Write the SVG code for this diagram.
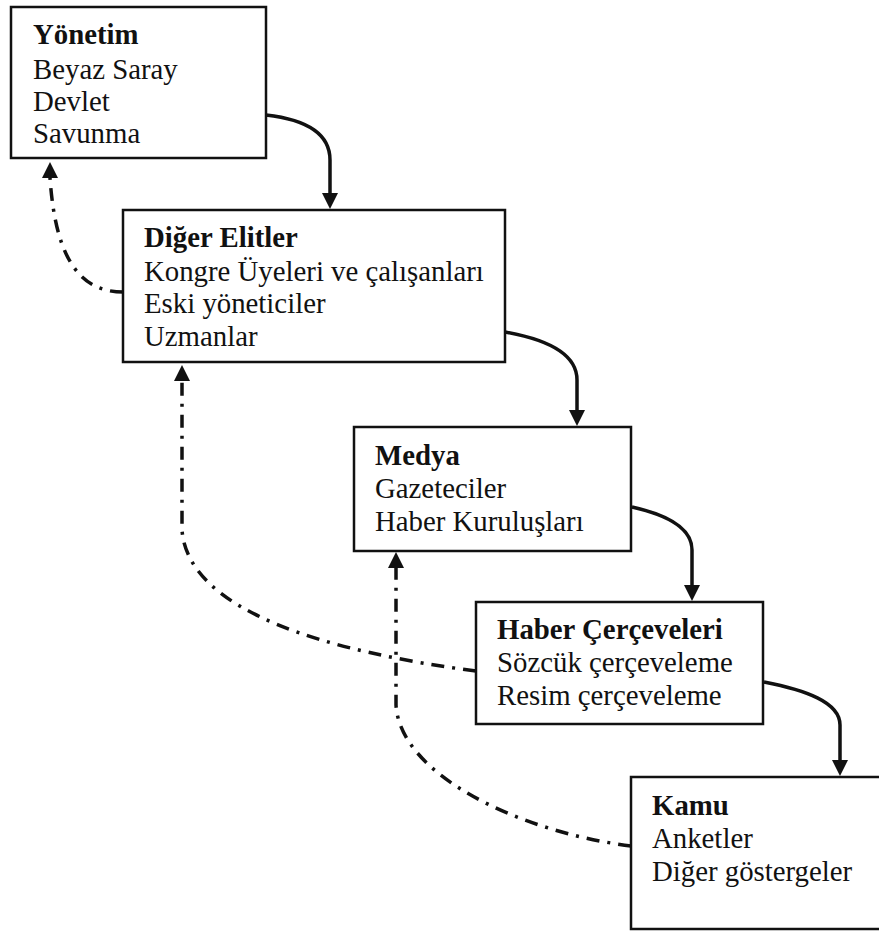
<svg xmlns="http://www.w3.org/2000/svg" width="879" height="931" viewBox="0 0 879 931">
<style>
.box{fill:#fff;stroke:#111;stroke-width:2.5}
text{font-family:"Liberation Serif","Times New Roman",serif;font-size:28.8px;fill:#111}
.t{font-weight:bold}
.solid{fill:none;stroke:#111;stroke-width:3.5}
.dd{fill:none;stroke:#111;stroke-width:3.5;stroke-dasharray:13,8,3,8}
.ah{fill:#111}
</style>
<g id="connectors">
<path class="solid" d="M266,115 C310,120 330,135 330,160 L330,196"/>
<path class="ah" d="M322,193 L338,193 L330,209 Z"/>
<path class="solid" d="M505,332 C550,340 577,355 577,380 L577,412"/>
<path class="ah" d="M569,410 L585,410 L577,426 Z"/>
<path class="solid" d="M632,507 C668,515 692,528 692,550 L692,587"/>
<path class="ah" d="M684,585 L700,585 L692,601 Z"/>
<path class="solid" d="M764,682 C805,690 840,702 840,725 L840,762"/>
<path class="ah" d="M832,760 L848,760 L840,776 Z"/>
<path class="dd" d="M123,292 C75,292 55,250 50,178"/>
<path class="ah" d="M42,178 L58,178 L50,162 Z"/>
<path class="dd" d="M476,671 C330,652 188,612 182,530 L182,381"/>
<path class="ah" d="M174,381 L190,381 L182,365 Z"/>
<path class="dd" d="M631,846 C520,832 400,775 396,705 L396,568"/>
<path class="ah" d="M388,568 L404,568 L396,552 Z"/>
</g>
<g id="yonetim">
<rect class="box" x="11" y="7" width="255" height="151"/>
<text x="33" y="44" class="t">Yönetim</text>
<text x="33" y="79">Beyaz Saray</text>
<text x="33" y="111">Devlet</text>
<text x="33" y="143">Savunma</text>
</g>
<g id="diger-elitler">
<rect class="box" x="123" y="210" width="382" height="152"/>
<text x="144" y="247" class="t">Diğer Elitler</text>
<text x="144" y="281">Kongre Üyeleri ve çalışanları</text>
<text x="144" y="313">Eski yöneticiler</text>
<text x="144" y="346">Uzmanlar</text>
</g>
<g id="medya">
<rect class="box" x="354" y="427" width="277" height="124"/>
<text x="375" y="465" class="t">Medya</text>
<text x="375" y="498">Gazeteciler</text>
<text x="375" y="531">Haber Kuruluşları</text>
</g>
<g id="haber-cerceveleri">
<rect class="box" x="476" y="602" width="287" height="122"/>
<text x="497" y="639" class="t">Haber Çerçeveleri</text>
<text x="497" y="672">Sözcük çerçeveleme</text>
<text x="497" y="705">Resim çerçeveleme</text>
</g>
<g id="kamu">
<rect class="box" x="631" y="777" width="260" height="152"/>
<text x="652" y="815" class="t">Kamu</text>
<text x="652" y="848">Anketler</text>
<text x="652" y="881">Diğer göstergeler</text>
</g>
</svg>
